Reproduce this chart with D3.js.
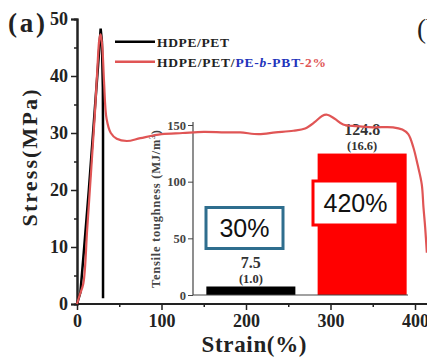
<!DOCTYPE html>
<html><head><meta charset="utf-8">
<script src="https://cdn.jsdelivr.net/npm/d3@7"></script>
<style>body{margin:0;background:#fff}svg{display:block}</style>
</head><body>
<script>
// ---- data ----
const strainTicks = [0, 100, 200, 300, 400];
const strainMinor = [50, 150, 250, 350];
const stressTicks = [0, 10, 20, 30, 40, 50];
const stressMinor = [5, 15, 25, 35, 45];
const seriesNames = ["HDPE/PET", "HDPE/PET/PE-b-PBT-2%"];
const blackCurve = [[0,0],[4,2],[8,9],[14,20],[20,32],[25,42],[28,48.3],[29.5,46],[30.6,38],[30.8,30],[30.8,1]];
const redCurve = [[0,0],[3,1.5],[7.5,3.6],[12,13],[17,24],[21,33],[24,41],[26.5,46.5],[28,47.3],[30,45],[32,39],[35,32.5],[40,30],[47,29],[59,28.6],[75,29.1],[100,29.8],[125,30],[150,30.2],[175,30.1],[193,30.1],[215,29.8],[235,30.1],[256,30.4],[270,30.8],[282,32],[290,33],[296,33.2],[305,32.5],[315,31.5],[331,31.2],[350,31],[374,31],[385,30.6],[392,29.8],[398,27.5],[403,24.5],[408,21],[410,17],[412,13.5],[414,9]];
const toughness = [7.5, 124.8];
const toughnessErr = [1.0, 16.6];
const toughnessTicks = [0, 50, 100, 150];
const increaseLabels = ["30%", "420%"];

const W = 427, H = 358;
const serif = "'Liberation Serif','Times New Roman',serif";
const svg = d3.select("body").append("svg").attr("width", W).attr("height", H);

const x = d3.scaleLinear().domain([0, 400]).range([77, 415]);
const y = d3.scaleLinear().domain([0, 50]).range([304, 19]);

// axes
const gx = svg.append("g").attr("transform", `translate(0,${y(0)})`);
gx.call(d3.axisBottom(x).tickValues(strainTicks).tickSize(6).tickPadding(4).tickFormat(d3.format("d")));
gx.append("g").call(d3.axisBottom(x).tickValues(strainMinor).tickSize(3).tickFormat(""));
gx.selectAll(".domain").remove();
gx.append("line").attr("x1", x(0)).attr("x2", W).attr("stroke", "#222").attr("stroke-width", 2);
gx.selectAll(".tick line").attr("stroke", "#222").attr("stroke-width", 1.5);
gx.selectAll("text").attr("font-family", serif).attr("font-weight", "bold").attr("font-size", 18).attr("fill", "#222");

const gy = svg.append("g").attr("transform", `translate(${x(0)},0)`);
gy.call(d3.axisLeft(y).tickValues(stressTicks).tickSize(6).tickPadding(3).tickFormat(d3.format("d")));
gy.append("g").call(d3.axisLeft(y).tickValues(stressMinor).tickSize(3).tickFormat(""));
gy.selectAll(".domain").attr("stroke", "#222").attr("stroke-width", 2);
gy.selectAll(".tick line").attr("stroke", "#222").attr("stroke-width", 1.5);
gy.selectAll("text").attr("font-family", serif).attr("font-weight", "bold").attr("font-size", 18).attr("fill", "#222");

// axis titles
svg.append("text").attr("x", 254).attr("y", 352).attr("text-anchor", "middle")
  .attr("font-family", serif).attr("font-weight", "bold").attr("font-size", 23).attr("fill", "#222")
  .attr("textLength", 105).text("Strain(%)");
svg.append("text").attr("transform", "translate(37,158) rotate(-90)").attr("text-anchor", "middle")
  .attr("font-family", serif).attr("font-weight", "bold").attr("font-size", 22).attr("fill", "#222")
  .attr("textLength", 137).text("Stress(MPa)");
svg.append("text").attr("x", 8).attr("y", 32)
  .attr("font-family", serif).attr("font-weight", "bold").attr("font-size", 27).attr("fill", "#222")
  .attr("textLength", 37).text("(a)");
svg.append("text").attr("x", 417).attr("y", 38)
  .attr("font-family", serif).attr("font-size", 27).attr("fill", "#222").text("(b)");

// ---- inset ----
const xi = d3.scaleBand().domain(seriesNames).range([193, 420]).paddingInner(0.2).paddingOuter(0.12);
const yi = d3.scaleLinear().domain([0, 150]).range([295, 125]);
const gi = svg.append("g");
gi.selectAll("rect.bar").data(toughness).join("rect").attr("class", "bar")
  .attr("x", (d, i) => xi(seriesNames[i])).attr("width", xi.bandwidth())
  .attr("y", d => yi(d)).attr("height", d => yi(0) - yi(d))
  .attr("fill", (d, i) => i === 0 ? "#000" : "#ff0000");
const giy = gi.append("g").attr("transform", "translate(193,0)");
giy.call(d3.axisLeft(yi).tickValues(toughnessTicks).tickSize(5).tickPadding(2));
giy.select(".domain").attr("d", `M-0,${yi(0)}V122`).attr("stroke", "#444").attr("stroke-width", 1.2);
giy.selectAll(".tick line").attr("stroke", "#444");
giy.selectAll("text").attr("font-family", serif).attr("font-weight", "bold").attr("font-size", 12.5).attr("fill", "#444");
gi.append("line").attr("x1", 193).attr("x2", 408).attr("y1", yi(0)).attr("y2", yi(0)).attr("stroke", "#444").attr("stroke-width", 1.2);
const lbl = gi.append("text").attr("transform", "translate(160,209) rotate(-90)").attr("text-anchor", "middle")
  .attr("font-family", serif).attr("font-weight", "bold").attr("font-size", 12.5).attr("fill", "#444")
  .attr("textLength", 158);
lbl.append("tspan").text("Tensile toughness (MJ/m");
lbl.append("tspan").attr("font-size", 8).attr("dy", -5).text("3");
lbl.append("tspan").attr("dy", 5).text(")");

gi.selectAll("text.val").data(toughness).join("text").attr("class", "val")
  .attr("x", (d, i) => xi(seriesNames[i]) + xi.bandwidth() / 2)
  .attr("y", d => yi(d) - 18.5)
  .attr("text-anchor", "middle").attr("font-family", serif).attr("font-weight", "bold").attr("font-size", 16).attr("fill", "#333")
  .text(d => d.toFixed(1));
gi.selectAll("text.err").data(toughnessErr).join("text").attr("class", "err")
  .attr("x", (d, i) => xi(seriesNames[i]) + xi.bandwidth() / 2)
  .attr("y", (d, i) => yi(toughness[i]) - 3.5)
  .attr("text-anchor", "middle").attr("font-family", serif).attr("font-weight", "bold").attr("font-size", 12.5).attr("fill", "#333")
  .text(d => `(${d.toFixed(1)})`);

// ---- curves ----
const lineLin = d3.line().x(d => x(d[0])).y(d => y(d[1]));
svg.append("path").datum(blackCurve).attr("d", lineLin).attr("fill", "none").attr("stroke", "#000").attr("stroke-width", 2.5);
svg.append("path").datum(redCurve).attr("d", d3.line().x(d => x(d[0])).y(d => y(d[1])).curve(d3.curveCatmullRom)).attr("fill", "none").attr("stroke", "#e05555").attr("stroke-width", 2.2);

// percent boxes
const boxes = [
  {x0: 206, y0: 207.5, w: 77, h: 41, stroke: "#2f6e8e"},
  {x0: 313, y0: 181, w: 85, h: 44, stroke: "#ff0000"}
];
boxes.forEach((b, i) => {
  svg.append("rect").attr("x", b.x0).attr("y", b.y0).attr("width", b.w).attr("height", b.h)
    .attr("fill", "#fff").attr("stroke", b.stroke).attr("stroke-width", 3);
  svg.append("text").attr("x", b.x0 + b.w / 2).attr("y", b.y0 + b.h / 2 + 9).attr("text-anchor", "middle")
    .attr("font-family", "'Liberation Sans',Arial,sans-serif").attr("font-size", 25).attr("fill", "#111")
    .text(increaseLabels[i]);
});

// legend
const lg = svg.append("g");
[["#000", 41.7], ["#e05555", 61.7]].forEach(([c, yy]) => {
  lg.append("line").attr("x1", 115).attr("x2", 155).attr("y1", yy).attr("y2", yy).attr("stroke", c).attr("stroke-width", 2.5);
});
lg.append("text").attr("x", 157).attr("y", 46.5).attr("font-family", serif).attr("font-weight", "bold").attr("font-size", 13.5)
  .attr("fill", "#222").attr("textLength", 72).text(seriesNames[0]);
const t2 = lg.append("text").attr("x", 157).attr("y", 66.5).attr("font-family", serif).attr("font-weight", "bold").attr("font-size", 13.5)
  .attr("textLength", 169);
t2.append("tspan").attr("fill", "#222").text("HDPE/PET/");
t2.append("tspan").attr("fill", "#2233bb").text("PE-");
t2.append("tspan").attr("fill", "#2233bb").attr("font-style", "italic").text("b");
t2.append("tspan").attr("fill", "#2233bb").text("-PBT");
t2.append("tspan").attr("fill", "#e05555").text("-2%");
</script>
</body></html>
